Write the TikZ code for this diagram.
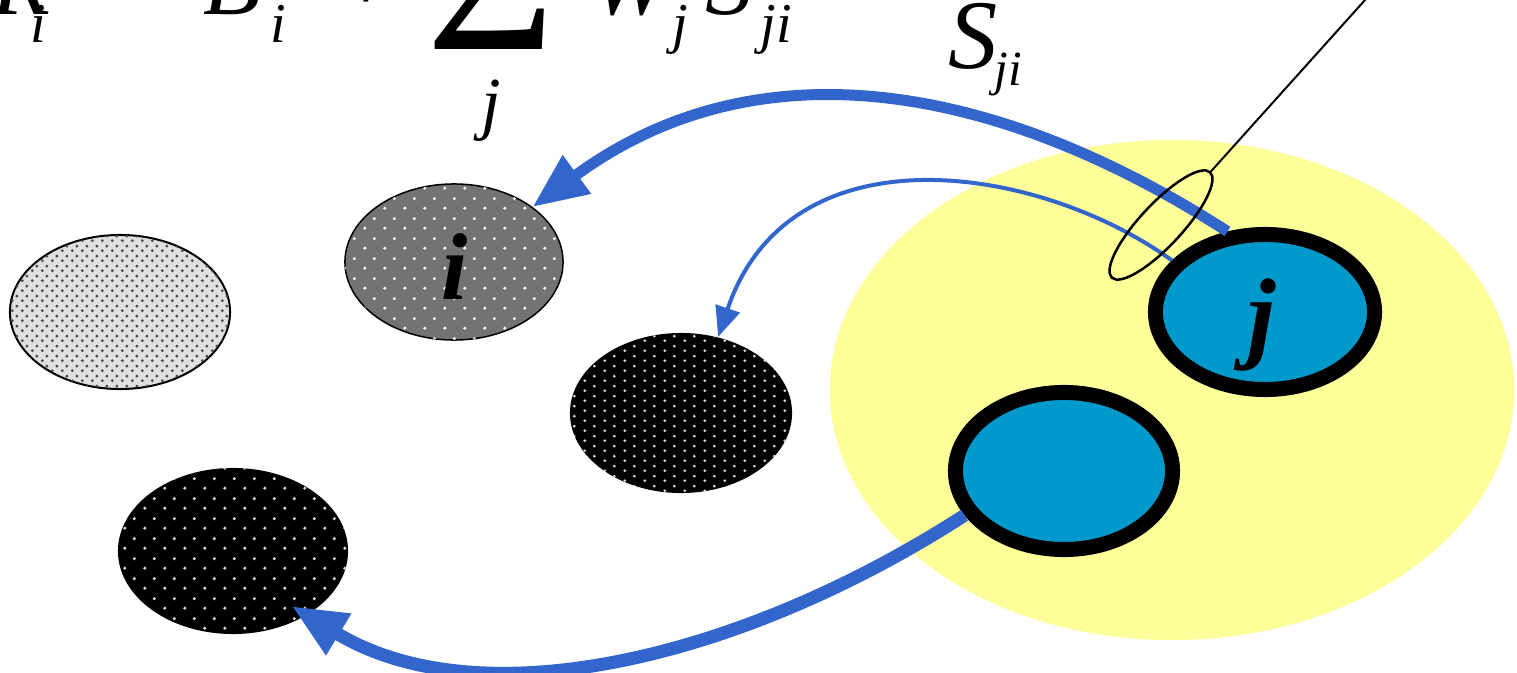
\documentclass[tikz,border=0pt]{standalone}
\usepackage{fontspec}
\setmainfont{Liberation Serif}
\usetikzlibrary{arrows.meta,shapes.geometric,patterns.meta}
\definecolor{grpyellow}{HTML}{FFFF99}
\definecolor{cellblue}{HTML}{0099CC}
\definecolor{linkblue}{HTML}{3366CC}
\newcommand{\fsz}[1]{\fontsize{#1}{#1}\selectfont}
\tikzdeclarepattern{name=finedots, type=uncolored,
  bottom left={(0cm,0cm)}, top right={(0.1cm,0.1cm)}, tile size={(0.1cm,0.1cm)},
  code={\fill (0.025cm,0.025cm) circle (0.017cm); \fill (0.075cm,0.075cm) circle (0.017cm);}}
\tikzdeclarepattern{name=sparsedots, type=uncolored,
  bottom left={(0cm,0cm)}, top right={(0.2cm,0.2cm)}, tile size={(0.2cm,0.2cm)},
  code={\fill (0.05cm,0.05cm) circle (0.018cm); \fill (0.15cm,0.15cm) circle (0.018cm);}}
\tikzdeclarepattern{name=densedots, type=uncolored,
  bottom left={(0cm,0cm)}, top right={(0.2cm,0.1cm)}, tile size={(0.2cm,0.1cm)},
  code={\fill (0.05cm,0.025cm) circle (0.016cm); \fill (0.15cm,0.075cm) circle (0.016cm);}}
\begin{document}
\begin{tikzpicture}[
  x=0.01cm,
  y=-0.01cm,
  blob/.style={ellipse, inner sep=0pt, minimum width=2.2cm, minimum height=1.56cm},
  lightblob/.style={blob, draw, line width=0.02cm, fill=black!12,
    postaction={pattern=finedots, pattern color=black!70}},
  greyblob/.style={blob, draw, line width=0.015cm, fill=black!55,
    postaction={pattern=sparsedots, pattern color=white}},
  darkblob/.style={blob, fill=black, postaction={pattern=#1, pattern color=white!85!black}},
  cell/.style={blob, draw, line width=0.15cm, fill=cellblue},
  eq/.style={font=\fsz{27}\itshape, inner sep=0pt, anchor=base west},
  sub/.style={font=\fsz{16}\itshape, inner sep=0pt, anchor=base west},
  tag/.style={font=\fsz{27}\bfseries\itshape, inner sep=0pt, anchor=base},
  link/.style={draw=linkblue, line width=0.11cm, -{Triangle[length=0.55cm, width=0.45cm]}},
  thinlink/.style={draw=linkblue, line width=0.04cm, -{Triangle[length=0.3cm, width=0.25cm]}}
]
\useasboundingbox (0,0) rectangle (1517,673);
\clip (0,0) rectangle (1517,673);
\node[blob, fill=grpyellow, minimum width=6.84cm, minimum height=5cm] (grp) at (1172,390) {};
\node[lightblob, minimum height=1.54cm] (pa) at (120,312) {};
\node[greyblob, minimum width=2.18cm] (pi) at (454,262) {};
\node[darkblob=densedots, minimum width=2.22cm, minimum height=1.6cm] (pb) at (681,413) {};
\node[darkblob=sparsedots, minimum width=2.3cm, minimum height=1.66cm] (pc) at (233,551) {};
\node[cell, minimum width=2.19cm, minimum height=1.55cm] (pj) at (1265,312) {};
\node[cell, minimum width=2.17cm, minimum height=1.57cm] (pk) at (1064,471) {};
\node[tag] (ilab) at (455,300) {i};
\node[tag, font=\fsz{29}\bfseries\itshape] (jlab) at (1262,350) {j};
\draw[link] (pj.115) .. controls (1000,85) and (760,40) .. (pi.35);
\draw[thinlink] (pj.151) .. controls (1040,165) and (790,125) .. (pb.64);
\draw[link, line width=0.13cm, shorten >=-0.18cm] (pk.204) .. controls (740,660) and (480,720) .. (pc.319);
\node[draw, ellipse, line width=0.025cm, rotate=47, inner sep=0pt,
  minimum width=1.44cm, minimum height=0.42cm] (sel) at (1161,225) {};
\coordinate (lead) at (1392,-30);
\draw[line width=0.02cm] (sel.east) -- (lead);
\node[eq] (fr) at (-8,15) {R};
\node[sub] (fri) at (30,43) {i};
\node[eq, anchor=base] (feq) at (125,15) {=};
\node[eq] (fb) at (203,15) {B};
\node[sub] (fbi) at (270,43) {i};
\node[eq, anchor=base] (fplus) at (366,12) {+};
\node[inner sep=0pt, anchor=base, font=\fsz{63}] (fsum) at (491,50) {Σ};
\node[sub, anchor=base, font=\fsz{20}\itshape] (fsumj) at (491,127) {j};
\node[eq] (fw) at (590,15) {W};
\node[sub] (fwj) at (672,43) {j};
\node[eq] (fs) at (705,15) {S};
\node[sub] (fsji) at (760,43) {ji};
\node[eq, font=\fsz{28}\itshape] (sl) at (948,69) {S};
\node[sub, font=\fsz{14}\itshape] (slji) at (994,86) {ji};
\end{tikzpicture}
\end{document}
